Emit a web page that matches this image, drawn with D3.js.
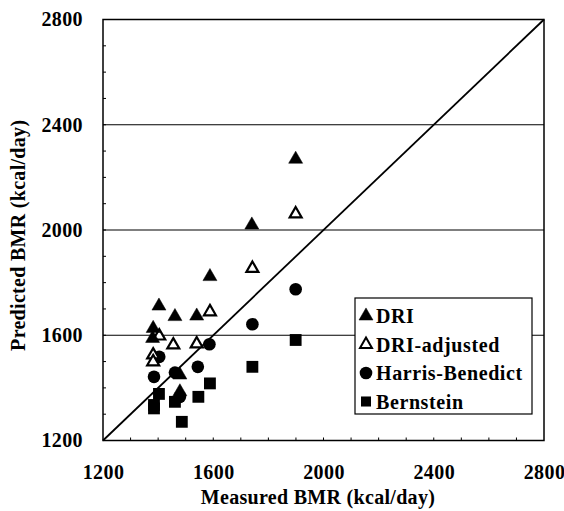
<!DOCTYPE html>
<head>
<meta charset="utf-8">
<title>Predicted vs measured BMR</title>
<script type="text/javascript" src="https://d3js.org/d3.v7.min.js"></script>
<style>
  body { margin: 0; background: #fff; }
  text { font-family: "Liberation Serif", "Times New Roman", serif; font-weight: bold; fill: #000; }
</style>
</head>
<body>
<div id="container"></div>

<script>
//---------------------------- DATA ----------------------------//
// [measured, predicted] in kcal/day
const dri = [[1382,1626],[1380,1588],[1403,1711],[1461,1671],[1540,1673],[1588,1823],
             [1479,1449],[1479,1385],[1740,2019],[1899,2269]];
const driAdjusted = [[1404,1597],[1382,1525],[1382,1499],[1455,1563],[1540,1567],
                     [1588,1689],[1742,1854],[1899,2061]];
const harrisBenedict = [[1404,1518],[1385,1442],[1461,1458],[1544,1480],[1586,1566],
                        [1479,1366],[1742,1642],[1899,1775]];
const bernstein = [[1403,1377],[1385,1335],[1385,1322],[1461,1347],[1546,1366],
                   [1486,1271],[1588,1417],[1742,1480],[1899,1582]];
const xTicks = [1200,1600,2000,2400,2800];
const yTicks = [1200,1600,2000,2400,2800];
const gridValues = [1600,2000,2400];
const legendNames = ["DRI","DRI-adjusted","Harris-Benedict","Bernstein"];

//--------------------------- SVG ------------------------------//
const W = 564, H = 511;
const svg = d3.select("#container").append("svg")
    .attr("width", W).attr("height", H);

const xScale = d3.scaleLinear().domain([1200,2800]).range([103,544]);
const yScale = d3.scaleLinear().domain([1200,2800]).range([440.5,19.5]);

// grid lines
svg.append("g").selectAll("line")
    .data(gridValues).enter().append("line")
    .attr("x1", xScale(1200)).attr("x2", xScale(2800))
    .attr("y1", d => yScale(d)).attr("y2", d => yScale(d))
    .attr("stroke", "#000").attr("stroke-width", 1.2);

// minor ticks
const minor = d3.range(1300, 2800, 100);
svg.append("g").selectAll("line").data(minor).enter().append("line")
    .attr("x1", xScale(1200)).attr("x2", xScale(1200) + 3)
    .attr("y1", d => yScale(d)).attr("y2", d => yScale(d))
    .attr("stroke", "#000").attr("stroke-width", 1);
svg.append("g").selectAll("line").data(minor).enter().append("line")
    .attr("y1", yScale(1200)).attr("y2", yScale(1200) - 3)
    .attr("x1", d => xScale(d)).attr("x2", d => xScale(d))
    .attr("stroke", "#000").attr("stroke-width", 1);

// frame
svg.append("rect")
    .attr("x", xScale(1200)).attr("y", yScale(2800))
    .attr("width", xScale(2800) - xScale(1200))
    .attr("height", yScale(1200) - yScale(2800))
    .attr("fill", "none").attr("stroke", "#000").attr("stroke-width", 1.5);

// identity line
svg.append("line")
    .attr("x1", xScale(1200)).attr("y1", yScale(1200))
    .attr("x2", xScale(2800)).attr("y2", yScale(2800))
    .attr("stroke", "#000").attr("stroke-width", 1.8);

// axes (labels only)
const xaxis = d3.axisBottom(xScale).tickValues(xTicks).tickFormat(d3.format("d"))
    .tickSize(0).tickPadding(24);
const yaxis = d3.axisLeft(yScale).tickValues(yTicks).tickFormat(d3.format("d"))
    .tickSize(0).tickPadding(20);
const gx = svg.append("g").attr("transform", "translate(0," + yScale(1200) + ")").call(xaxis);
const gy = svg.append("g").attr("transform", "translate(" + xScale(1200) + ",0)").call(yaxis);
[gx, gy].forEach(g => {
  g.select(".domain").remove();
  g.selectAll("text").style("font-size", "20px").attr("fill", "#000")
    .style("font-family", "'Liberation Serif', serif").style("font-weight", "bold")
    .style("letter-spacing", "0.4px");
});

svg.append("text")
    .attr("x", 318).attr("y", 504)
    .attr("text-anchor", "middle").style("font-size", "20px")
    .style("letter-spacing", "0.3px")
    .text("Measured BMR (kcal/day)");
svg.append("text")
    .attr("transform", "translate(25," + yScale(1980) + ") rotate(-90)")
    .attr("text-anchor", "middle").style("font-size", "20px")
    .style("letter-spacing", "0.3px")
    .text("Predicted BMR (kcal/day)");

//------------------------- SYMBOLS ----------------------------//
const tri = d3.symbol().type(d3.symbolTriangle).size(85);
const triOpen = d3.symbol().type(d3.symbolTriangle).size(62);
const circ = d3.symbol().type(d3.symbolCircle).size(125);
const sq = d3.symbol().type(d3.symbolSquare).size(140);

function plot(data, gen, fill, sw) {
  svg.append("g").selectAll("path").data(data).enter().append("path")
    .attr("d", gen)
    .attr("transform", d => "translate(" + xScale(d[0]) + "," + yScale(d[1]) + ")")
    .attr("fill", fill).attr("stroke", "#000").attr("stroke-width", sw);
}
plot(bernstein, sq, "#000", 0);
plot(harrisBenedict, circ, "#000", 0);
plot(driAdjusted, triOpen, "#fff", 2.2);
plot(dri, tri, "#000", 0.5);

//-------------------------- LEGEND ----------------------------//
const lg = svg.append("g");
lg.append("rect")
    .attr("x", 355).attr("y", 298).attr("width", 177).attr("height", 116)
    .attr("fill", "#fff").attr("stroke", "#000").attr("stroke-width", 1.2);
const legSyms = [[tri, "#000", 0.5], [triOpen, "#fff", 2], [circ, "#000", 0], [sq, "#000", 0]];
legendNames.forEach((name, i) => {
  const y = 316 + i * 28.5;
  lg.append("path").attr("d", legSyms[i][0])
    .attr("transform", "translate(366," + y + ")" + (i === 3 ? " scale(0.85)" : ""))
    .attr("fill", legSyms[i][1]).attr("stroke", "#000").attr("stroke-width", legSyms[i][2]);
  lg.append("text").attr("x", 376).attr("y", y + 7)
    .style("font-size", "20px").style("letter-spacing", "0.6px").text(name);
});
</script>
</body>
